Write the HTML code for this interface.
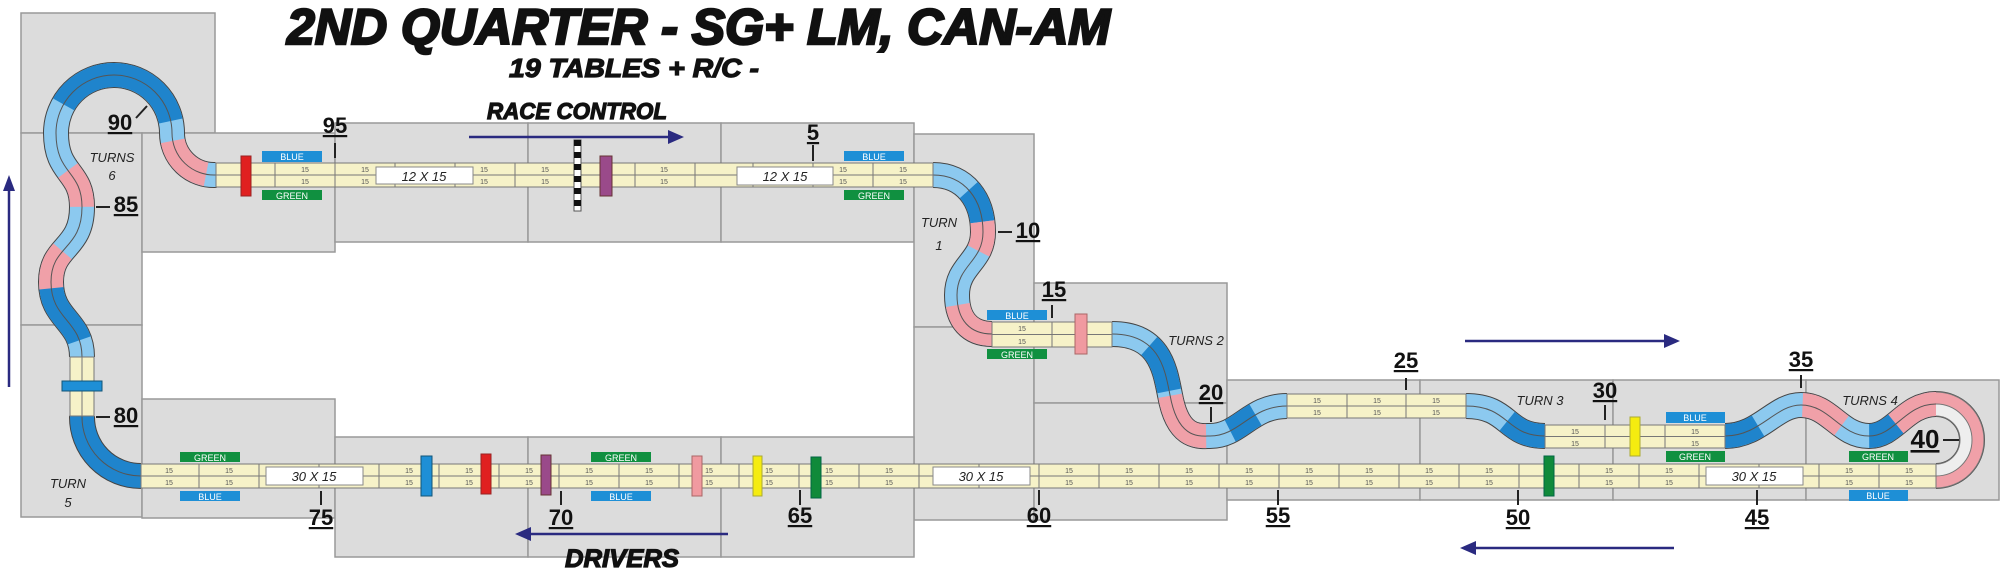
<!DOCTYPE html>
<html><head><meta charset="utf-8"><style>
html,body{margin:0;padding:0;background:#fff;}
svg{display:block;}
.tb{fill:#dcdcdc;stroke:#999;stroke-width:1.5;}
.st{fill:#f6f2c8;stroke:#777;stroke-width:1;}
.s{font-family:"Liberation Sans",sans-serif;font-size:7px;fill:#555;text-anchor:middle;}
.n{font-family:"Liberation Sans",sans-serif;font-weight:bold;font-size:22px;fill:#111;text-anchor:middle;text-decoration:underline;}
.t{font-family:"Liberation Sans",sans-serif;font-style:italic;font-size:13px;fill:#222;text-anchor:middle;}
.lb{font-family:"Liberation Sans",sans-serif;font-size:9px;fill:#fff;text-anchor:middle;}
.bx{font-family:"Liberation Sans",sans-serif;font-style:italic;font-size:13px;fill:#222;text-anchor:middle;}
.hd{font-family:"Liberation Sans",sans-serif;font-weight:bold;font-style:italic;fill:#111;stroke:#111;}
</style></head><body>
<svg width="2000" height="570" viewBox="0 0 2000 570" xmlns="http://www.w3.org/2000/svg">
<defs>
<path id="p1" d="M216,175 A42,42 0 0 1 172,133 A58,58 0 0 0 56,133 C56,175 82,170 82,207 C82,250 51,245 51,282 C51,320 82,320 82,357"/>
<path id="p2" d="M82,416 A59,59 0 0 0 141,476"/>
<path id="p3" d="M933,175 C965,175 983,200 983,232 C983,262 957,265 957,295 C957,320 970,334 992,334"/>
<path id="p4" d="M1112,334 C1160,334 1165,370 1170,395 C1178,440 1200,436 1210,436 C1240,436 1250,406 1287,406"/>
<path id="p5" d="M1466,406 C1510,406 1505,436 1545,436"/>
<path id="p6" d="M1725,436 C1760,436 1775,405 1801,405 C1830,405 1840,436 1869,436 C1895,436 1905,404 1936,404"/>
</defs>
<!-- tables -->
<rect class="tb" x="21" y="13" width="194" height="120"/>
<rect class="tb" x="21" y="133" width="121" height="192"/>
<rect class="tb" x="21" y="325" width="121" height="192"/>
<rect class="tb" x="142" y="133" width="193" height="119"/>
<rect class="tb" x="335" y="123" width="193" height="119"/>
<rect class="tb" x="528" y="123" width="193" height="119"/>
<rect class="tb" x="721" y="123" width="193" height="119"/>
<rect class="tb" x="914" y="134" width="120" height="193"/>
<rect class="tb" x="914" y="327" width="120" height="193"/>
<rect class="tb" x="1034" y="283" width="193" height="120"/>
<rect class="tb" x="1034" y="403" width="193" height="117"/>
<rect class="tb" x="1227" y="380" width="193" height="120"/>
<rect class="tb" x="1420" y="380" width="193" height="120"/>
<rect class="tb" x="1613" y="380" width="193" height="120"/>
<rect class="tb" x="1806" y="380" width="193" height="120"/>
<rect class="tb" x="142" y="399" width="193" height="119"/>
<rect class="tb" x="335" y="437" width="193" height="120"/>
<rect class="tb" x="528" y="437" width="193" height="120"/>
<rect class="tb" x="721" y="437" width="193" height="120"/>

<!-- curved tracks -->
<g fill="none">
<use href="#p1" stroke="#444" stroke-width="26"/>
<use href="#p1" stroke="#8cc9ef" stroke-width="24"/>
<use href="#p1" stroke="#1f84cc" stroke-width="24" stroke-dasharray="0 80 140 190 70 1000"/>
<use href="#p1" stroke="#f0a0a8" stroke-width="24" stroke-dasharray="0 10 50 230 40 50 40 1000"/>
<use href="#p1" stroke="#555" stroke-width="1"/>

<use href="#p2" stroke="#444" stroke-width="26"/>
<use href="#p2" stroke="#1f84cc" stroke-width="24"/>
<use href="#p2" stroke="#555" stroke-width="1"/>

<use href="#p3" stroke="#444" stroke-width="26"/>
<use href="#p3" stroke="#8cc9ef" stroke-width="24"/>
<use href="#p3" stroke="#1f84cc" stroke-width="24" stroke-dasharray="0 40 35 1000"/>
<use href="#p3" stroke="#f0a0a8" stroke-width="24" stroke-dasharray="0 75 30 60 60"/>
<use href="#p3" stroke="#555" stroke-width="1"/>

<use href="#p4" stroke="#444" stroke-width="26"/>
<use href="#p4" stroke="#8cc9ef" stroke-width="24"/>
<use href="#p4" stroke="#1f84cc" stroke-width="24" stroke-dasharray="0 40 50 1000"/>
<use href="#p4" stroke="#f0a0a8" stroke-width="24" stroke-dasharray="0 95 60 1000"/>
<use href="#p4" stroke="#1f84cc" stroke-width="24" stroke-dasharray="0 180 30 1000"/>
<use href="#p4" stroke="#555" stroke-width="1"/>

<use href="#p5" stroke="#444" stroke-width="26"/>
<use href="#p5" stroke="#8cc9ef" stroke-width="24"/>
<use href="#p5" stroke="#1f84cc" stroke-width="24" stroke-dasharray="0 45 50 1000"/>
<use href="#p5" stroke="#555" stroke-width="1"/>

<path d="M1725,436 C1760,436 1775,405 1801,405 C1830,405 1840,436 1869,436 C1895,436 1905,404 1936,404 A36,36 0 0 1 1936,476" stroke="#444" stroke-width="26"/>
<use href="#p6" stroke="#8cc9ef" stroke-width="24"/>
<use href="#p6" stroke="#1f84cc" stroke-width="24" stroke-dasharray="0 0 35 125 35 1000"/>
<use href="#p6" stroke="#f0a0a8" stroke-width="24" stroke-dasharray="0 85 45 60 60"/>
<path d="M1936,392 A48,48 0 0 1 1936,488 L1936,476 A36,36 0 0 0 1936,404 Z" fill="#f0a0a8" stroke="none"/>
<path d="M1936,404 A36,36 0 0 1 1936,476 L1936,464 A24,24 0 0 0 1936,416 Z" fill="#eeeeee" stroke="none"/>
<path d="M1936,392 A48,48 0 0 1 1936,488 M1936,404 A36,36 0 0 1 1936,476 M1936,416 A24,24 0 0 1 1936,464" stroke="#777" stroke-width="1"/>
<use href="#p6" stroke="#555" stroke-width="1"/>
</g>

<!-- straights -->
<rect class="st" x="216" y="163" width="717" height="24"/>
<path d="M216,175H933M275,163v24M335,163v24M395,163v24M455,163v24M515,163v24M575,163v24M635,163v24M695,163v24M753,163v24M813,163v24M873,163v24" stroke="#777" stroke-width="1"/>
<rect class="st" x="141" y="464" width="1795" height="24"/>
<path d="M141,476H1936M199,464v24M259,464v24M319,464v24M379,464v24M439,464v24M499,464v24M559,464v24M619,464v24M679,464v24M739,464v24M799,464v24M859,464v24M919,464v24M979,464v24M1039,464v24M1099,464v24M1159,464v24M1219,464v24M1279,464v24M1339,464v24M1399,464v24M1459,464v24M1519,464v24M1579,464v24M1639,464v24M1699,464v24M1759,464v24M1819,464v24M1879,464v24" stroke="#777" stroke-width="1"/>
<rect class="st" x="992" y="322" width="120" height="25"/>
<path d="M992,334.5H1112M1052,322v25" stroke="#777"/>
<rect class="st" x="1287" y="394" width="179" height="24"/>
<path d="M1287,406H1466M1347,394v24M1406,394v24" stroke="#777"/>
<rect class="st" x="1545" y="425" width="180" height="23"/>
<path d="M1545,436.5H1725M1605,425v23M1665,425v23" stroke="#777"/>
<rect class="st" x="70" y="357" width="24" height="59"/>
<path d="M82,357V416" stroke="#777"/>

<!-- 15 labels -->
<text class="s" y="172"><tspan x="305">15</tspan><tspan x="365">15</tspan><tspan x="484">15</tspan><tspan x="545">15</tspan><tspan x="664">15</tspan><tspan x="843">15</tspan><tspan x="903">15</tspan></text>
<text class="s" y="184"><tspan x="305">15</tspan><tspan x="365">15</tspan><tspan x="484">15</tspan><tspan x="545">15</tspan><tspan x="664">15</tspan><tspan x="843">15</tspan><tspan x="903">15</tspan></text>
<text class="s" y="473"><tspan x="169">15</tspan><tspan x="229">15</tspan><tspan x="409">15</tspan><tspan x="469">15</tspan><tspan x="529">15</tspan><tspan x="589">15</tspan><tspan x="649">15</tspan><tspan x="709">15</tspan><tspan x="769">15</tspan><tspan x="829">15</tspan><tspan x="889">15</tspan><tspan x="1069">15</tspan><tspan x="1129">15</tspan><tspan x="1189">15</tspan><tspan x="1249">15</tspan><tspan x="1309">15</tspan><tspan x="1369">15</tspan><tspan x="1429">15</tspan><tspan x="1489">15</tspan><tspan x="1609">15</tspan><tspan x="1669">15</tspan><tspan x="1849">15</tspan><tspan x="1909">15</tspan></text>
<text class="s" y="485"><tspan x="169">15</tspan><tspan x="229">15</tspan><tspan x="409">15</tspan><tspan x="469">15</tspan><tspan x="529">15</tspan><tspan x="589">15</tspan><tspan x="649">15</tspan><tspan x="709">15</tspan><tspan x="769">15</tspan><tspan x="829">15</tspan><tspan x="889">15</tspan><tspan x="1069">15</tspan><tspan x="1129">15</tspan><tspan x="1189">15</tspan><tspan x="1249">15</tspan><tspan x="1309">15</tspan><tspan x="1369">15</tspan><tspan x="1429">15</tspan><tspan x="1489">15</tspan><tspan x="1609">15</tspan><tspan x="1669">15</tspan><tspan x="1849">15</tspan><tspan x="1909">15</tspan></text>
<text class="s" y="331"><tspan x="1022">15</tspan><tspan x="1082">15</tspan></text>
<text class="s" y="344"><tspan x="1022">15</tspan><tspan x="1082">15</tspan></text>
<text class="s" y="403"><tspan x="1317">15</tspan><tspan x="1377">15</tspan><tspan x="1436">15</tspan></text>
<text class="s" y="415"><tspan x="1317">15</tspan><tspan x="1377">15</tspan><tspan x="1436">15</tspan></text>
<text class="s" y="434"><tspan x="1575">15</tspan><tspan x="1695">15</tspan></text>
<text class="s" y="446"><tspan x="1575">15</tspan><tspan x="1695">15</tspan></text>

<!-- white boxes -->
<g fill="#fff" stroke="#888">
<rect x="376" y="167" width="97" height="17"/><rect x="737" y="167" width="96" height="18"/>
<rect x="266" y="467" width="97" height="18"/><rect x="933" y="467" width="97" height="18"/><rect x="1706" y="467" width="97" height="18"/>
</g>
<text class="bx" x="424" y="181">12 X 15</text><text class="bx" x="785" y="181">12 X 15</text>
<text class="bx" x="314" y="481">30 X 15</text><text class="bx" x="981" y="481">30 X 15</text><text class="bx" x="1754" y="481">30 X 15</text>

<!-- bars -->
<rect x="241" y="156" width="10" height="40" fill="#e02020" stroke="#922"/>
<rect x="600" y="156" width="12" height="40" fill="#9a4a8a" stroke="#633"/>
<rect x="574" y="140" width="7" height="71" fill="#fff" stroke="#555"/>
<path d="M574,140h7v6h-7zM574,152h7v6h-7zM574,164h7v6h-7zM574,176h7v6h-7zM574,188h7v6h-7zM574,200h7v6h-7z" fill="#111"/>
<rect x="421" y="456" width="11" height="40" fill="#1e8fd6" stroke="#157"/>
<rect x="481" y="454" width="10" height="40" fill="#e02020" stroke="#922"/>
<rect x="541" y="455" width="10" height="40" fill="#9a4a8a" stroke="#633"/>
<rect x="692" y="456" width="10" height="40" fill="#f09aa0" stroke="#a66"/>
<rect x="753" y="456" width="9" height="40" fill="#f5ec10" stroke="#aa3"/>
<rect x="811" y="457" width="10" height="41" fill="#108a3a" stroke="#064"/>
<rect x="1544" y="456" width="10" height="40" fill="#108a3a" stroke="#064"/>
<rect x="1630" y="417" width="10" height="39" fill="#f5ec10" stroke="#aa3"/>
<rect x="1075" y="314" width="12" height="40" fill="#f09aa0" stroke="#a66"/>
<rect x="62" y="381" width="40" height="10" fill="#1e8fd6" stroke="#157"/>

<!-- labels blue/green -->
<g>
<rect x="262" y="151" width="60" height="11" fill="#1e8fd6"/><text class="lb" x="292" y="160">BLUE</text>
<rect x="262" y="190" width="60" height="10" fill="#109040"/><text class="lb" x="292" y="199">GREEN</text>
<rect x="844" y="151" width="60" height="10" fill="#1e8fd6"/><text class="lb" x="874" y="160">BLUE</text>
<rect x="844" y="190" width="60" height="10" fill="#109040"/><text class="lb" x="874" y="199">GREEN</text>
<rect x="987" y="310" width="60" height="10" fill="#1e8fd6"/><text class="lb" x="1017" y="319">BLUE</text>
<rect x="987" y="349" width="60" height="10" fill="#109040"/><text class="lb" x="1017" y="358">GREEN</text>
<rect x="180" y="452" width="60" height="10" fill="#109040"/><text class="lb" x="210" y="461">GREEN</text>
<rect x="180" y="491" width="60" height="10" fill="#1e8fd6"/><text class="lb" x="210" y="500">BLUE</text>
<rect x="591" y="452" width="60" height="10" fill="#109040"/><text class="lb" x="621" y="461">GREEN</text>
<rect x="591" y="491" width="60" height="10" fill="#1e8fd6"/><text class="lb" x="621" y="500">BLUE</text>
<rect x="1666" y="412" width="59" height="11" fill="#1e8fd6"/><text class="lb" x="1695" y="421">BLUE</text>
<rect x="1666" y="451" width="59" height="11" fill="#109040"/><text class="lb" x="1695" y="460">GREEN</text>
<rect x="1849" y="451" width="59" height="11" fill="#109040"/><text class="lb" x="1878" y="460">GREEN</text>
<rect x="1849" y="490" width="59" height="11" fill="#1e8fd6"/><text class="lb" x="1878" y="499">BLUE</text>
</g>

<!-- ticks -->
<path d="M136,118L147,106M335,143V158M96,207H110M813,145V161M998,232H1012M1052,305V318M1211,407V422M1406,378V390M1605,405V420M1801,375V388M1943,440H1959M1757,490V505M1518,490V505M1278,490V505M1039,490V505M800,490V505M561,491V505M321,491V505M96,417H110" stroke="#222" stroke-width="2"/>
<g class="n">
<text x="120" y="130">90</text><text x="335" y="133">95</text><text x="126" y="212">85</text><text x="813" y="140">5</text>
<text x="1028" y="238">10</text><text x="1054" y="297">15</text><text x="1211" y="400">20</text><text x="1406" y="368">25</text>
<text x="1605" y="398">30</text><text x="1801" y="367">35</text><text x="1925" y="448" style="font-size:26px">40</text>
<text x="1757" y="525">45</text><text x="1518" y="525">50</text><text x="1278" y="523">55</text><text x="1039" y="523">60</text>
<text x="800" y="523">65</text><text x="561" y="525">70</text><text x="321" y="525">75</text><text x="126" y="423">80</text>
</g>

<!-- turn labels -->
<text class="t" x="112" y="162">TURNS</text><text class="t" x="112" y="180">6</text>
<text class="t" x="939" y="227">TURN</text><text class="t" x="939" y="250">1</text>
<text class="t" x="1196" y="345">TURNS 2</text>
<text class="t" x="1540" y="405">TURN 3</text>
<text class="t" x="1870" y="405">TURNS 4</text>
<text class="t" x="68" y="488">TURN</text><text class="t" x="68" y="507">5</text>

<!-- arrows -->
<g stroke="#2a2a80" stroke-width="2.5" fill="#2a2a80">
<line x1="469" y1="137" x2="672" y2="137"/><path d="M684,137L668,130L668,144Z" stroke="none"/>
<line x1="1465" y1="341" x2="1668" y2="341"/><path d="M1680,341L1664,334L1664,348Z" stroke="none"/>
<line x1="1674" y1="548" x2="1472" y2="548"/><path d="M1460,548L1476,541L1476,555Z" stroke="none"/>
<line x1="728" y1="534" x2="527" y2="534"/><path d="M515,534L531,527L531,541Z" stroke="none"/>
<line x1="9" y1="187" x2="9" y2="387"/><path d="M9,175L3,191L15,191Z" stroke="none"/>
</g>

<!-- titles -->
<text class="hd" x="287" y="44" textLength="823" lengthAdjust="spacingAndGlyphs" style="font-size:50px;stroke-width:2.5">2ND QUARTER - SG+ LM, CAN-AM</text>
<text class="hd" x="509" y="77" textLength="250" lengthAdjust="spacingAndGlyphs" style="font-size:26px;stroke-width:1.2">19 TABLES + R/C -</text>
<text class="hd" x="487" y="119" textLength="180" lengthAdjust="spacingAndGlyphs" style="font-size:23px;stroke-width:1.2">RACE CONTROL</text>
<text class="hd" x="565" y="567" textLength="114" lengthAdjust="spacingAndGlyphs" style="font-size:25px;stroke-width:1.2">DRIVERS</text>
</svg>
</body></html>
